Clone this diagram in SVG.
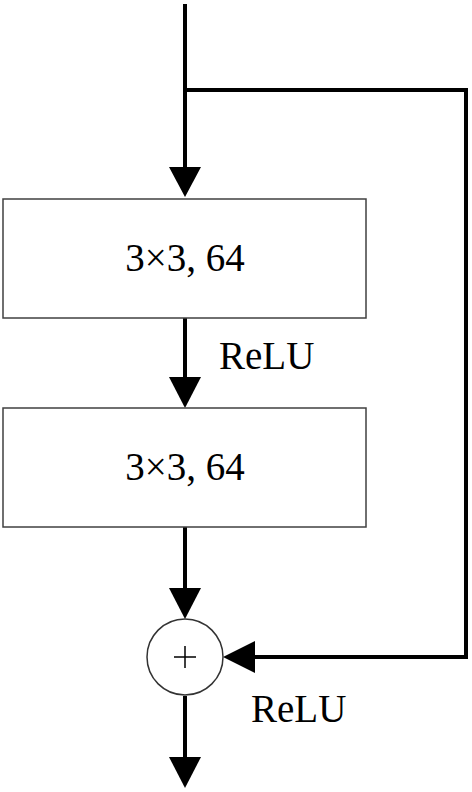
<svg xmlns="http://www.w3.org/2000/svg" width="472" height="792" viewBox="0 0 472 792">
<style>
.box{fill:#fff;stroke:#404040;stroke-width:1.5}
.lbl{font-family:"Liberation Serif","Times New Roman",serif;font-size:39px;fill:#000}
.ln{fill:none;stroke:#000;stroke-width:4}
.ah{fill:#000}
</style>
<g id="connectors">
<path class="ln" d="M185,4 V170"/>
<path class="ln" d="M185,90 H466 V657 H252"/>
<path class="ln" d="M185,318 V380"/>
<path class="ln" d="M185,527 V590"/>
<path class="ln" d="M185,696 V760"/>
<polygon class="ah" points="169,167 201,167 185,197"/>
<polygon class="ah" points="169,377 201,377 185,408"/>
<polygon class="ah" points="169,588 201,588 185,619"/>
<polygon class="ah" points="255,641 255,673 223,657"/>
<polygon class="ah" points="169,757 201,757 185,788"/>
</g>
<g id="conv1">
<rect class="box" x="3" y="199" width="363" height="119"/>
<text class="lbl" x="185" y="271" text-anchor="middle">3×3, 64</text>
</g>
<g id="relu1">
<text class="lbl" x="219" y="369">ReLU</text>
</g>
<g id="conv2">
<rect class="box" x="3" y="408" width="363" height="119"/>
<text class="lbl" x="185" y="480" text-anchor="middle">3×3, 64</text>
</g>
<g id="sum">
<circle cx="185" cy="657" r="38" fill="#fff" stroke="#333" stroke-width="1.5"/>
<path d="M174,657 H196 M185,646 V668" stroke="#000" stroke-width="1.5"/>
</g>
<g id="relu2">
<text class="lbl" x="251" y="722">ReLU</text>
</g>
</svg>
